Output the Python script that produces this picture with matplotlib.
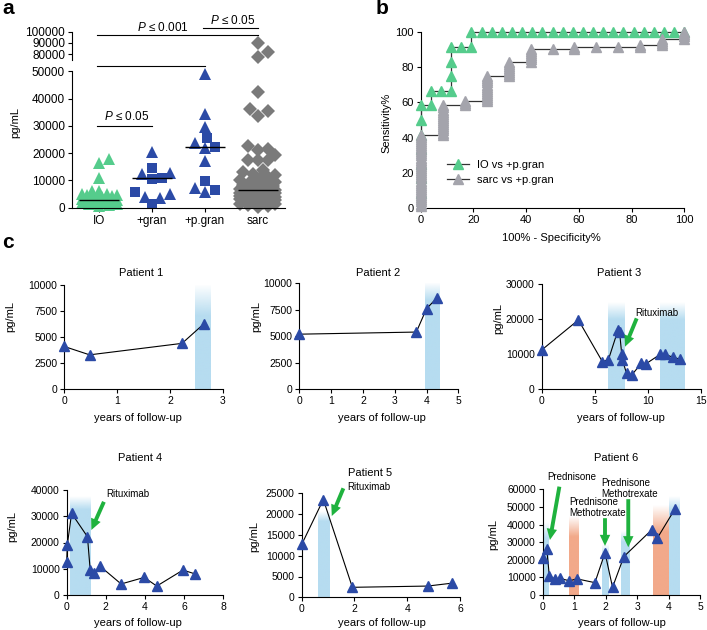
import matplotlib
matplotlib.use('Agg')
import matplotlib.pyplot as plt
import matplotlib.colors as mcolors
import numpy as np

plt.rcParams['font.family'] = ['Liberation Sans', 'DejaVu Sans']
plt.rcParams['mathtext.fontset'] = 'custom'
plt.rcParams['mathtext.it'] = 'Liberation Sans:italic'
plt.rcParams['mathtext.rm'] = 'Liberation Sans'
plt.rcParams['axes.linewidth'] = 0.8
plt.rcParams['xtick.major.width'] = 0.8
plt.rcParams['ytick.major.width'] = 0.8
plt.rcParams['xtick.major.size'] = 3
plt.rcParams['ytick.major.size'] = 3
plt.rcParams['xtick.major.pad'] = 2
plt.rcParams['ytick.major.pad'] = 2

W, H = 707, 630

GREEN = '#55cc8c'
BLUE = '#2b4aa6'
DGRAY = '#7a7a7a'
LGRAY = '#a4a4ac'
SKY = '#b6dcf0'
SALMON = '#f2a98a'
ARROW = '#1fb23e'

# ---------------- panel a data ----------------
groups = ['IO', '+gran', '+p.gran', 'sarc']
io_tri = [17800, 16500, 11000, 6300, 6000, 5200, 4900, 4600, 4500, 4300, 4000, 3800, 3500,
          3300, 3100, 3000, 2800, 2600, 2400, 2200, 2000, 1800, 1500, 1200, 900, 500]
gran_tri = [20500, 12800, 12200, 5000, 4000, 3700]
gran_sq = [14500, 11000, 10500, 5800, 1300]
pgran_tri = [49000, 34500, 29600, 23600, 22000, 17200, 7100, 5600]
pgran_sq = [25400, 22300, 9800, 6500]
sarc_dia = [90000, 81500, 77000, 42500, 36200, 35500, 33700, 22700, 21500, 21000, 19300,
            17600, 17500, 17400,
            14000, 13000, 12500, 12000, 11400, 10800, 10200,
            9600, 9400, 9200, 9000, 8700, 8400, 8200, 8000, 7800, 7600, 7400, 7200,
            6900, 6700,
            6450, 6350, 6300, 6200, 6100, 6050, 6000, 5950, 5900, 5850, 5800, 5750, 5700, 5650,
            5500, 5450, 5400, 5350, 5300, 5200, 5100, 5000, 4900, 4800, 4700, 4600, 4500,
            4400, 4300, 4200, 4100, 4000, 3900, 3800, 3600, 3500, 3300, 3100, 2900, 2700,
            2500, 2300, 2000, 1800, 1500, 1200, 900, 600, 300]
group_medians = [3000, 10800, 22100, 6400]
sig_pairs = [(0, 1), (0, 2), (0, 3), (2, 3)]
sig_labels = ['$P$ ≤ 0.05', '$P$ ≤ 0.001', '$P$ ≤ 0.001', '$P$ ≤ 0.05']
sig_heights = [30000, 52000, 97000, 103200]

# ---------------- panel c data ----------------
p1_t = [0, 0.48, 2.23, 2.65]
p1_v = [4100, 3300, 4400, 6300]
p2_t = [0, 3.68, 4.0, 4.32]
p2_v = [5200, 5400, 7600, 8600]
p3_t = [0, 3.46, 5.72, 6.29, 7.2, 7.35, 7.55, 7.62, 8.0, 8.5, 9.4, 9.8, 11.2, 11.6, 12.4, 13.05]
p3_v = [11200, 19750, 7900, 8400, 16900, 16200, 10000, 8300, 4600, 4100, 7400, 7200, 10000,
        10000, 9100, 8600]
p4_t = [0, 0.03, 0.25, 1.06, 1.2, 1.4, 1.7, 2.78, 3.96, 4.6, 5.94, 6.57]
p4_v = [12700, 19000, 31100, 22200, 9500, 8250, 11000, 4200, 6700, 3400, 9500, 8000]
p5_t = [0, 0.82, 1.92, 4.77, 5.7]
p5_v = [12700, 23500, 2400, 2700, 3400]
p6_t = [0, 0.13, 0.21, 0.39, 0.55, 0.85, 1.08, 1.66, 1.98, 2.22, 2.58, 3.46, 3.64, 4.2]
p6_v = [20800, 25900, 11000, 9000, 9500, 8000, 9200, 7000, 24000, 4400, 21800, 36900, 32200, 48700]

# treatment periods (years)
p1_blue = [(2.48, 2.78)]
p2_blue = [(3.95, 4.4)]
p3_blue = [(6.25, 7.8), (11.2, 13.5)]
p4_blue = [(0.15, 1.2)]
p5_blue = [(0.62, 1.05)]
p6_blue = [(0.0, 0.18), (1.88, 2.1), (2.48, 2.75), (4.02, 4.35)]
p6_orange = [(0.85, 1.15), (3.5, 4.02)]

fig = plt.figure(figsize=(W / 100, H / 100), dpi=100)


def add_ax(left, top, right, bottom):
    return fig.add_axes([left / W, 1 - bottom / H, (right - left) / W, (bottom - top) / H])


def style(ax, size=8):
    for s in ['top', 'right']:
        ax.spines[s].set_visible(False)
    ax.tick_params(direction='out', labelsize=size)


def ftext(x, y, s, **kw):
    fig.text(x / W, 1 - y / H, s, **kw)


# ---------------- panel a ----------------
CAT_PX = 53.0


def to_px(v):
    if v <= 50000:
        return v * 136.4 / 50000
    return 148.1 + (v - 75000) * 27.9 / 25000


def swarm(values, half_width=19, size=9.5, step=2.5):
    cands = [0.0]
    k = 1
    while k * step <= half_width:
        cands += [k * step, -k * step]
        k += 1
    offs = np.zeros(len(values))
    placed = []
    for i in np.argsort(values):
        y = to_px(values[i])
        best, best_d = 0.0, -1
        for c in cands:
            d = min([((c - px) / size) ** 2 + ((y - py) / size) ** 2 for px, py in placed], default=9)
            if d >= 1:
                best = c
                break
            if d > best_d:
                best, best_d = c, d
        offs[i] = best
        placed.append((best, y))
    return offs / CAT_PX


ax_lo = add_ax(72, 71.3, 285, 207.7)
ax_hi = add_ax(72, 31.7, 285, 59.6)
for ax in (ax_lo, ax_hi):
    style(ax, size=8.5)
    ax.set_xlim(-0.51, 3.51)
ax_lo.set_ylim(0, 50000)
ax_hi.set_ylim(75000, 100000)
ax_lo.set_yticks(range(0, 50001, 10000))
ax_hi.set_yticks([80000, 90000, 100000])
ax_hi.spines['bottom'].set_visible(False)
ax_hi.set_xticks([])
ax_lo.set_xticks(range(4))
ax_lo.set_xticklabels(groups)

series = [(0, io_tri, '^', GREEN, 9), (1, gran_tri, '^', BLUE, 9), (1, gran_sq, 's', BLUE, 7.5),
          (2, pgran_tri, '^', BLUE, 9), (2, pgran_sq, 's', BLUE, 7.5), (3, sarc_dia, 'D', DGRAY, 7.2)]
for cat in range(4):
    members = [s for s in series if s[0] == cat]
    allv = np.concatenate([np.array(s[1], float) for s in members])
    offs = swarm(allv)
    pos = 0
    for _, vals, mk, col, ms in members:
        o = offs[pos:pos + len(vals)]
        pos += len(vals)
        vals = np.array(vals, float)
        lo = vals <= 60000
        ax_lo.plot(cat + o[lo], vals[lo], ls='none', marker=mk, color=col, ms=ms, mew=0, clip_on=False)
        ax_hi.plot(cat + o[~lo], vals[~lo], ls='none', marker=mk, color=col, ms=ms, mew=0, clip_on=False)
    ax_lo.hlines(group_medians[cat], cat - 0.38, cat + 0.38, color='black', lw=1, zorder=5)

sig_text_x = [0.52, 0.6, 1.21, 2.53]
for (i, j), lab, h, tx in zip(sig_pairs, sig_labels, sig_heights, sig_text_x):
    ax = ax_lo if h < 60000 else ax_hi
    ax.plot([i - 0.04, j], [h, h], color='black', lw=0.8, clip_on=False)
    dy = 1100 if h < 60000 else 600
    ax.text(tx, h + dy, lab, ha='center', va='bottom', fontsize=8.5, clip_on=False)

ftext(15, 122, 'pg/mL', rotation=90, ha='center', va='center', fontsize=8)

# ---------------- panel b ----------------


def roc_points(controls, patients, higher=True):
    vals = [(v, 0) for v in controls] + [(v, 1) for v in patients]
    vals.sort(key=lambda t: t[0], reverse=higher)
    fp = tp = 0
    xs, ys = [], []
    for v, lab in vals:
        if lab:
            tp += 1
        else:
            fp += 1
        xs.append(100.0 * fp / len(controls))
        ys.append(100.0 * tp / len(patients))
    return xs, ys


ax_b = add_ax(420.7, 32.3, 684.3, 207.7)
style(ax_b)
pgran_all = pgran_tri + pgran_sq
gx, gy = roc_points(io_tri, pgran_all, higher=True)
sx, sy = roc_points(pgran_all, sarc_dia, higher=False)
ax_b.plot(gx, gy, color='#333333', lw=0.9, marker='^', mfc=GREEN, mec=GREEN, ms=7,
          clip_on=False, zorder=3, label='IO vs +p.gran')
ax_b.plot(sx, sy, color='#333333', lw=0.9, marker='^', mfc=LGRAY, mec=LGRAY, ms=7,
          clip_on=False, zorder=4, label='sarc vs +p.gran')
ax_b.set_xlim(0, 100)
ax_b.set_ylim(0, 100)
ax_b.set_xticks(range(0, 101, 20))
ax_b.set_yticks(range(0, 101, 20))
ax_b.legend(loc='upper left', bbox_to_anchor=(0.1, 0.27), frameon=False, fontsize=8,
            handlelength=2.0, handletextpad=0.7, labelspacing=0.45, borderaxespad=0, borderpad=0)
ftext(386, 123, 'Sensitivity%', rotation=90, ha='center', va='center', fontsize=8)
ftext(551, 238, '100% - Specificity%', ha='center', va='center', fontsize=8)

# ---------------- panel c ----------------


def shade(ax, x0, x1, solid, top, color):
    n = 200
    ys = np.linspace(0, top, n)
    img = np.zeros((n, 1, 4))
    img[..., :3] = mcolors.to_rgb(color)
    img[:, 0, 3] = np.clip((top - ys) / (top - solid), 0, 1)
    ax.imshow(img, extent=(x0, x1, 0, top), origin='lower', aspect='auto',
              interpolation='bilinear', zorder=0)


def arrow(ax, tip, tail):
    ax.annotate('', xy=tip, xytext=tail, annotation_clip=False,
                arrowprops=dict(arrowstyle='simple,head_length=0.8,head_width=0.75,tail_width=0.28',
                                fc=ARROW, ec='none', shrinkA=0, shrinkB=0, mutation_scale=10))


patients = [
    # t, v, box(left, top, right, bottom), xmax, ymax, xticks, yticks, title pos, ylabel pos, xlabel pos, shades
    (p1_t, p1_v, (64.3, 284.9, 222.7, 389.3), 3, 10000, [0, 1, 2, 3], range(0, 10001, 2500),
     (141, 273), (10, 317), (138, 418),
     [(p1_blue[0], 7000, 10000, SKY)]),
    (p2_t, p2_v, (299.3, 283.3, 458.3, 389.3), 5, 10000, range(6), range(0, 10001, 2500),
     (378, 273), (256, 317), (382, 418),
     [(p2_blue[0], 8300, 10000, SKY)]),
    (p3_t, p3_v, (541.7, 284.0, 700.7, 389.3), 15, 30000, [0, 5, 10, 15], range(0, 30001, 10000),
     (619, 273), (498, 318), (621, 418),
     [(p3_blue[0], 19700, 24600, SKY), (p3_blue[1], 19700, 24600, SKY)]),
    (p4_t, p4_v, (66.7, 490.0, 223.3, 595.0), 8, 40000, range(0, 9, 2), range(0, 40001, 10000),
     (140, 458), (12, 527), (138, 623),
     [(p4_blue[0], 32400, 37400, SKY)]),
    (p5_t, p5_v, (301.7, 493.3, 460.0, 597.3), 6, 25000, range(0, 7, 2), range(0, 25001, 5000),
     (370, 473), (254, 537), (382, 623),
     [(p5_blue[0], 18200, 20600, SKY)]),
    (p6_t, p6_v, (542.7, 489.3, 700.0, 595.0), 5, 60000, range(6), range(0, 60001, 10000),
     (616, 458), (493, 535), (622, 623),
     [(p6_blue[0], 32000, 41000, SKY), (p6_orange[0], 33000, 44500, SALMON),
      (p6_blue[1], 22000, 28400, SKY), (p6_blue[2], 30000, 36000, SKY),
      (p6_orange[1], 36000, 51000, SALMON), (p6_blue[3], 48000, 56000, SKY)]),
]

paxes = []
for n, (t, v, box, xmax, ymax, xt, yt, tpos, ypos, xpos, shades) in enumerate(patients):
    ax = add_ax(*box)
    style(ax, size=7.5)
    for (x0, x1), solid, top, col in shades:
        shade(ax, x0, x1, solid, top, col)
    ax.plot(t, v, color='black', lw=0.8, marker='^', mfc=BLUE, mec=BLUE, ms=7.5, clip_on=False, zorder=3)
    ax.set_xlim(0, xmax)
    ax.set_ylim(0, ymax)
    ax.set_xticks(list(xt))
    ax.set_yticks(list(yt))
    ftext(*tpos, 'Patient %d' % (n + 1), ha='center', va='center', fontsize=8)
    ftext(*ypos, 'pg/mL', rotation=90, ha='center', va='center', fontsize=8)
    ftext(*xpos, 'years of follow-up', ha='center', va='center', fontsize=8)
    paxes.append(ax)

# treatment annotations
ax3, ax4, ax5, ax6 = paxes[2], paxes[3], paxes[4], paxes[5]
ax3.text(10.85, 21800, 'Rituximab', ha='center', va='center', fontsize=7)
arrow(ax3, (7.86, 12140), (8.96, 20200))
ax4.text(3.11, 38400, 'Rituximab', ha='center', va='center', fontsize=7)
arrow(ax4, (1.26, 24760), (1.9, 35500))
ax5.text(2.56, 26600, 'Rituximab', ha='center', va='center', fontsize=7, clip_on=False)
arrow(ax5, (1.14, 19540), (1.58, 26200))
ax6.text(0.92, 66900, 'Prednisone', ha='center', va='center', fontsize=7, clip_on=False)
arrow(ax6, (0.23, 31250), (0.53, 61500))
ax6.text(0.85, 49700, 'Prednisone\nMethotrexate', ha='left', va='center', fontsize=7,
         linespacing=1.1)
arrow(ax6, (1.98, 27840), (1.98, 43600))
ax6.text(1.86, 60600, 'Prednisone\nMethotrexate', ha='left', va='center', fontsize=7,
         linespacing=1.1, clip_on=False)
arrow(ax6, (2.72, 27100), (2.72, 54400))

# panel letters
ftext(8, 9, 'a', fontsize=15, fontweight='bold', ha='center', va='center')
ftext(382, 9, 'b', fontsize=15, fontweight='bold', ha='center', va='center')
ftext(8, 242, 'c', fontsize=15, fontweight='bold', ha='center', va='center')

fig.savefig('out.png', dpi=100)
